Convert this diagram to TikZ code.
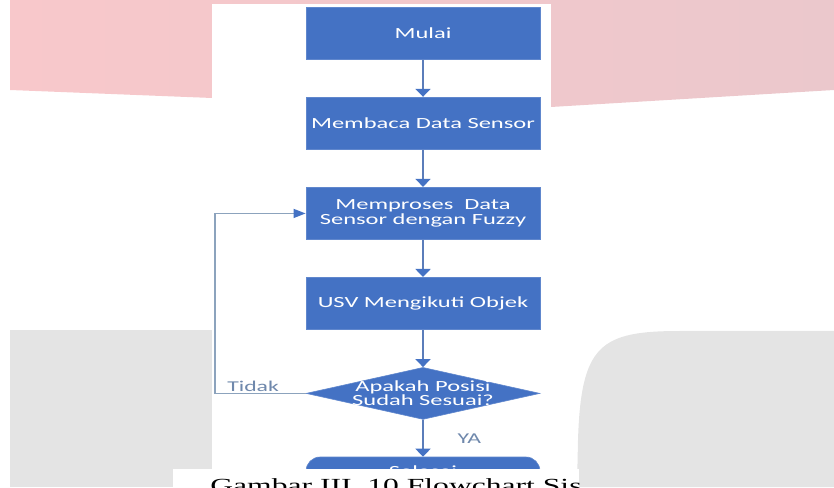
\documentclass[tikz,border=0pt]{standalone}
\usepackage{fontspec}
\setmainfont{Carlito}
\newfontfamily\capfont{Liberation Serif}
\usetikzlibrary{shapes.geometric, arrows.meta, positioning}
\definecolor{kotak}{HTML}{4472C4}
\definecolor{garis}{HTML}{5B7DBA}
\definecolor{garisbalik}{HTML}{8CA3BD}
\definecolor{labelc}{HTML}{6F88AC}
\definecolor{pinkkiri}{HTML}{F8C8CB}
\definecolor{pinkkanan}{HTML}{EBC8CC}
\definecolor{abu}{HTML}{E4E4E4}
\tikzstyle{proses} = [rectangle, minimum width=148pt, minimum height=52.5pt, inner sep=1pt, align=center, draw=kotak!85!white, line width=0.6pt, fill=kotak, text=white, font=\fontsize{15.5}{15}\selectfont]
\tikzstyle{keputusan} = [diamond, aspect=2.85, minimum width=148pt, minimum height=52pt, inner xsep=-5pt, inner ysep=-4pt, align=center, draw=kotak!85!white, line width=0.6pt, fill=kotak, text=white, font=\fontsize{15.5}{14}\selectfont]
\tikzstyle{terminal} = [rectangle, rounded corners=14pt, minimum width=148pt, minimum height=28pt, inner sep=1pt, draw=kotak!85!white, line width=0.6pt, fill=kotak, text=white, font=\fontsize{15.5}{15}\selectfont]
\tikzstyle{arrow} = [line width=1.8pt, draw=garis, -{Triangle[length=8pt, width=15pt, color=kotak]}]
\tikzstyle{arrowbalik} = [line width=1.4pt, draw=garisbalik, -{Triangle[length=12pt, width=9pt, color=kotak]}]
\tikzstyle{ket} = [text=labelc, inner sep=1pt, font=\fontsize{15}{15}\selectfont]

\begin{document}
\begin{tikzpicture}[x=1pt, y=1pt]
  \useasboundingbox (0,0) rectangle (834,487);
  % latar
  \shade[left color=pinkkiri, right color=pinkkanan] (10,487) -- (834,487) -- (834,397) -- (551,380) -- (212,389) -- (10,397) -- cycle;
  \fill[abu] (10,0) rectangle (212,157);
  \fill[abu] (577,0) -- (578,47) .. controls (581,142) and (600,156) .. (680,156) -- (834,156) -- (834,0) -- cycle;
  \fill[white] (212,18) rectangle (551,483);

  \begin{scope}[shift={(423,0)}, xscale=1.58, transform shape, node distance=37pt]
    \node[proses] (mulai) at (0,453.75) {Mulai};
    \node[proses, below=of mulai] (baca) {Membaca Data Sensor};
    \node[proses, below=of baca] (olah) {Memproses~~Data\\Sensor dengan Fuzzy};
    \node[proses, below=of olah] (ikut) {USV Mengikuti Objek};
    \node[keputusan, below=of ikut] (cek) {Apakah Posisi\\Sudah Sesuai?};
    \node[terminal, below=of cek] (akhir) {Selesai};
    \coordinate (pojok) at (-131.6,0);

    % panah
    \draw[arrow] (mulai) -- (baca);
    \draw[arrow] (baca) -- (olah);
    \draw[arrow] (olah) -- (ikut);
    \draw[arrow] (ikut) -- (cek);
    \draw[arrow] (cek) -- node[ket, right=20pt] {YA} (akhir);
    \draw[arrowbalik] (cek.west) -- node[ket, pos=0.58, above] {Tidak} (cek.west -| pojok) |- (olah.west);
  \end{scope}

  % keterangan gambar
  \fill[white] (173,0) rectangle (579,18);
  \begin{scope}
    \clip (173,0) rectangle (579,18);
    \begin{scope}[shift={(210,-5)}, xscale=1.58, transform shape]
      \node[anchor=base west, inner sep=0pt, font=\capfont\fontsize{20}{24}\selectfont] (judul) at (0,0) {Gambar III. 10 Flowchart Sistem};
    \end{scope}
  \end{scope}
\end{tikzpicture}
\end{document}
